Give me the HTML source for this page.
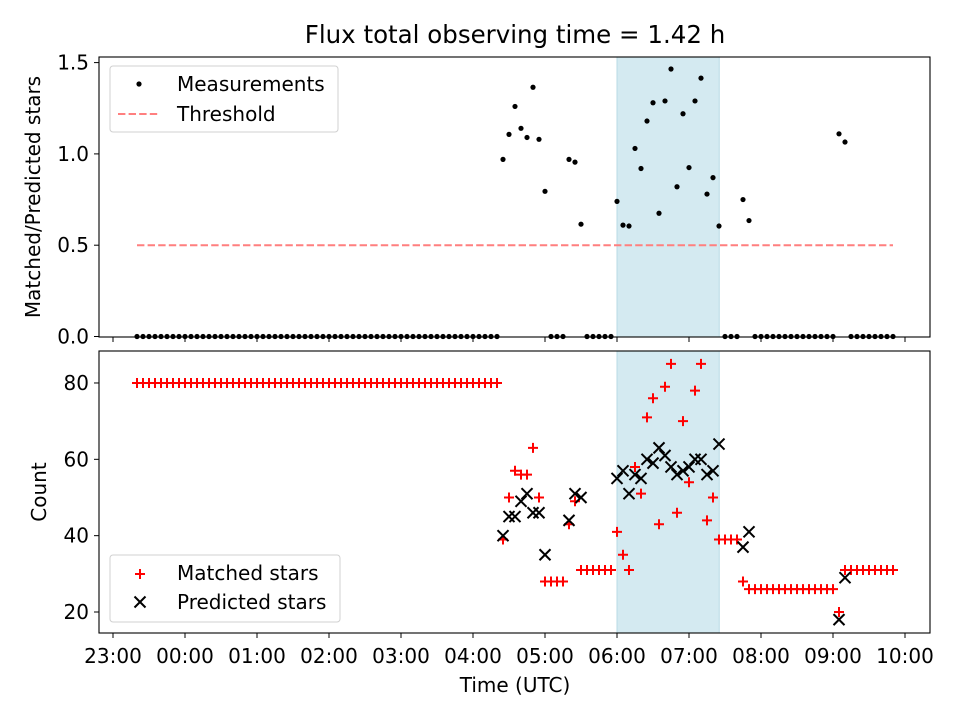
<!DOCTYPE html>
<html><head><meta charset="utf-8"><style>
html,body{margin:0;padding:0;background:#fff;}
svg{display:block;font-family:"DejaVu Sans","Liberation Sans",sans-serif;}
</style></head><body>
<svg id="chart" width="960" height="720" viewBox="0 0 960 720">
<rect width="960" height="720" fill="#fff"/>
<text x="515" y="43" font-size="24.5" text-anchor="middle">Flux total observing time = 1.42 h</text>
<g id="gtop"></g><g id="gbot"></g>
</svg>
<script>
const times=[20,25,30,35,40,45,50,55,60,65,70,75,80,85,90,95,100,105,110,115,120,125,130,135,140,145,150,155,160,165,170,175,180,185,190,195,200,205,210,215,220,225,230,235,240,245,250,255,260,265,270,275,280,285,290,295,300,305,310,315,320,325,330,335,340,345,350,355,360,365,370,375,380,385,390,395,400,405,410,415,420,425,430,435,440,445,450,455,460,465,470,475,480,485,490,495,500,505,510,515,520,525,530,535,540,545,550,555,560,565,570,575,580,585,590,595,600,605,610,615,620,625,630,635,640,645,650];
const ratio=[0,0,0,0,0,0,0,0,0,0,0,0,0,0,0,0,0,0,0,0,0,0,0,0,0,0,0,0,0,0,0,0,0,0,0,0,0,0,0,0,0,0,0,0,0,0,0,0,0,0,0,0,0,0,0,0,0,0,0,0,0,
0.97,1.107,1.26,1.14,1.09,1.365,1.08,0.795,0,0,0,0.97,0.955,0.615,0,0,0,0,0,
0.74,0.61,0.605,1.03,0.92,1.18,1.28,0.675,1.29,1.465,0.82,1.22,0.925,1.29,1.415,0.78,0.87,0.605,
0,0,0,0.75,0.635,0,0,0,0,0,0,0,0,0,0,0,0,0,0,1.11,1.065,0,0,0,0,0,0,0,0];
const matched=[80,80,80,80,80,80,80,80,80,80,80,80,80,80,80,80,80,80,80,80,80,80,80,80,80,80,80,80,80,80,80,80,80,80,80,80,80,80,80,80,80,80,80,80,80,80,80,80,80,80,80,80,80,80,80,80,80,80,80,80,80,
39,50,57,56,56,63,50,28,28,28,28,43,49,31,31,31,31,31,31,
41,35,31,58,51,71,76,43,79,85,46,70,54,78,85,44,50,39,
39,39,39,28,26,26,26,26,26,26,26,26,26,26,26,26,26,26,26,20,31,31,31,31,31,31,31,31,31];
const N=null;
const predicted=[N,N,N,N,N,N,N,N,N,N,N,N,N,N,N,N,N,N,N,N,N,N,N,N,N,N,N,N,N,N,N,N,N,N,N,N,N,N,N,N,N,N,N,N,N,N,N,N,N,N,N,N,N,N,N,N,N,N,N,N,N,
40,45,45,49,51,46,46,35,N,N,N,44,51,50,N,N,N,N,N,
55,57,51,56,55,60,59,63,61,58,56,57,58,60,60,56,57,64,
N,N,N,37,41,N,N,N,N,N,N,N,N,N,N,N,N,N,N,18,29,N,N,N,N,N,N,N,N];
const xTickLabels=["23:00","00:00","01:00","02:00","03:00","04:00","05:00","06:00","07:00","08:00","09:00","10:00"];
const xTickVals=[0,60,120,180,240,300,360,420,480,540,600,660];
const topTicks=[0,0.5,1.0,1.5];
const topTickLabels=["0.0","0.5","1.0","1.5"];
const botTicks=[20,40,60,80];
const threshold=[0.5];
const obsSpan=[420,505.2];

const NS="http://www.w3.org/2000/svg";
const FS=20;
const X=m=>113+m*1.2;
const YT=v=>336.5-v*182.6;
const YB=v=>612-(v-20)*3.817;
function mk(parent,tag,attrs){const e=document.createElementNS(NS,tag);for(const k in attrs)e.setAttribute(k,attrs[k]);parent.appendChild(e);return e;}
const gTop=document.getElementById('gtop'), gBot=document.getElementById('gbot');

function panel(g,y0,y1,name){
  let s=mk(g,'rect',{x:X(obsSpan[0]),y:y0,width:X(obsSpan[1])-X(obsSpan[0]),height:y1-y0,fill:'#d4eaf1',stroke:'#b9dbe5','stroke-width':1});
  
  
}
panel(gTop,57,337,'top');
panel(gBot,351,633,'bottom');

let th=mk(gTop,'line',{x1:X(times[0]),x2:X(times[times.length-1]),y1:YT(threshold[0]),y2:YT(threshold[0]),stroke:'#ff7f7f','stroke-width':2,'stroke-dasharray':'7.4,3.2'});



times.forEach((t,i)=>{
  const c=mk(gTop,'circle',{cx:X(t),cy:YT(ratio[i]),r:2.6,fill:'#000'});
  
  
});
times.forEach((t,i)=>{
  const x=X(t),y=YB(matched[i]);
  const p=mk(gBot,'path',{d:`M${x-5},${y}H${x+5}M${x},${y-5}V${y+5}`,stroke:'#f00','stroke-width':2});
  
  
});
times.forEach((t,i)=>{
  if(predicted[i]===null)return;
  const x=X(t),y=YB(predicted[i]),d=5.5;
  const p=mk(gBot,'path',{d:`M${x-d},${y-d}L${x+d},${y+d}M${x-d},${y+d}L${x+d},${y-d}`,stroke:'#000','stroke-width':2});
  
  
});

function frame(g,y0,y1,name){
  const r=mk(g,'rect',{x:99,y:y0,width:831,height:y1-y0,fill:'none',stroke:'#000','stroke-width':1.1});
  
  
  xTickVals.forEach((m,i)=>{
    const t=mk(g,'line',{x1:X(m),x2:X(m),y1:y1,y2:y1+5,stroke:'#000','stroke-width':1});
    
    
  });
}
frame(gTop,57,337,'top');
frame(gBot,351,633,'bottom');

xTickVals.forEach((m,i)=>{
  const t=mk(gBot,'text',{x:X(m),y:663,'font-size':FS,'text-anchor':'middle'});
  t.textContent=xTickLabels[i];
  
  
});
topTicks.forEach((v,i)=>{
  const l=mk(gTop,'line',{x1:94,x2:99,y1:YT(v),y2:YT(v),stroke:'#000'});
  
  
  const t=mk(gTop,'text',{x:89,y:YT(v)+7,'font-size':FS,'text-anchor':'end'});
  t.textContent=topTickLabels[i];
  
  
});
botTicks.forEach(v=>{
  const l=mk(gBot,'line',{x1:94,x2:99,y1:YB(v),y2:YB(v),stroke:'#000'});
  
  
  const t=mk(gBot,'text',{x:89,y:YB(v)+7,'font-size':FS,'text-anchor':'end'});
  t.textContent=String(v);
  
  
});
</script>
<svg width="960" height="720" style="position:absolute;left:0;top:0;font-family:'DejaVu Sans','Liberation Sans',sans-serif">
<text transform="translate(40,197) rotate(-90)" font-size="20" text-anchor="middle">Matched/Predicted stars</text>
<text transform="translate(46,492) rotate(-90)" font-size="20" text-anchor="middle">Count</text>
<text x="515" y="692" font-size="20" text-anchor="middle">Time (UTC)</text>
<g>
<rect x="110" y="66" width="228" height="66" rx="3" fill="#fff" fill-opacity="0.8" stroke="#d0d0d0"/>
<circle cx="139" cy="84" r="2.6" fill="#000"/>
<text x="177" y="91" font-size="20">Measurements</text>
<line x1="118" x2="160" y1="114" y2="114" stroke="#ff7f7f" stroke-width="2" stroke-dasharray="7.4,3.2"/>
<text x="177" y="121" font-size="20">Threshold</text>
</g>
<g>
<rect x="110" y="555" width="230" height="67" rx="3" fill="#fff" fill-opacity="0.8" stroke="#d0d0d0"/>
<path d="M135,574H145M140,569V579" stroke="#f00" stroke-width="2"/>
<text x="177" y="580" font-size="20">Matched stars</text>
<path d="M134.5,596.5L145.5,607.5M134.5,607.5L145.5,596.5" stroke="#000" stroke-width="2"/>
<text x="177" y="609" font-size="20">Predicted stars</text>
</g>
</svg>
</body></html>
